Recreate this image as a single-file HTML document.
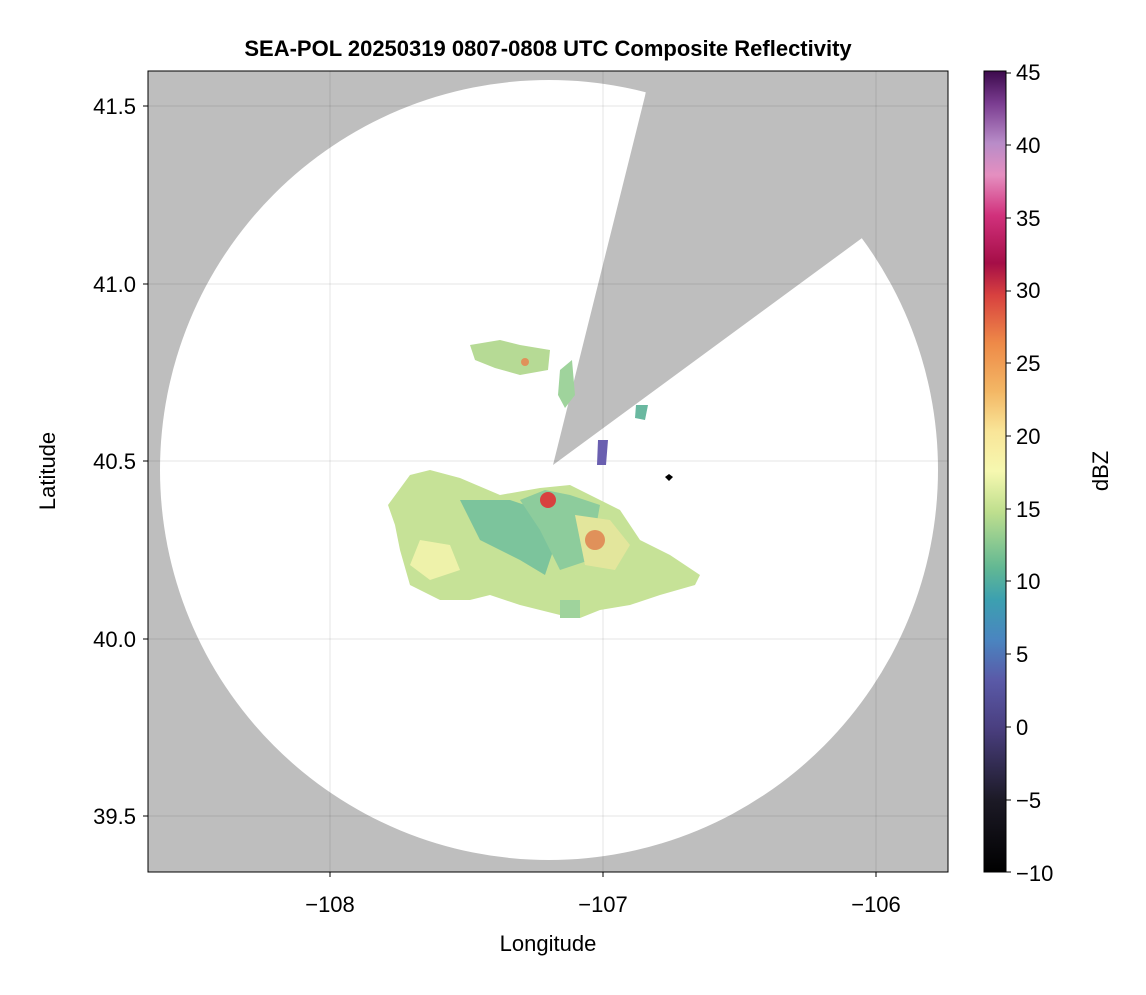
<!DOCTYPE html>
<html><head><meta charset="utf-8"><style>
body{margin:0;background:#fff;}
svg text{font-family:"Liberation Sans",sans-serif;}
</style></head><body>
<svg width="1146" height="990" xmlns="http://www.w3.org/2000/svg">
<defs>
<clipPath id="pa"><rect x="148" y="71" width="800" height="801"/></clipPath>
<linearGradient id="cb" x1="0" y1="1" x2="0" y2="0">
<stop offset="0" stop-color="#000000"/>
<stop offset="0.09" stop-color="#1c1a26"/>
<stop offset="0.18" stop-color="#4a3f80"/>
<stop offset="0.24" stop-color="#5a5aa8"/>
<stop offset="0.29" stop-color="#4a85c0"/>
<stop offset="0.34" stop-color="#3ca0b0"/>
<stop offset="0.38" stop-color="#62b893"/>
<stop offset="0.45" stop-color="#bfdf8e"/>
<stop offset="0.50" stop-color="#f6f8b0"/>
<stop offset="0.55" stop-color="#f9e598"/>
<stop offset="0.60" stop-color="#f3b765"/>
<stop offset="0.66" stop-color="#ee8a48"/>
<stop offset="0.72" stop-color="#d8413f"/>
<stop offset="0.76" stop-color="#a50e47"/>
<stop offset="0.82" stop-color="#d1317c"/>
<stop offset="0.87" stop-color="#e58fc0"/>
<stop offset="0.91" stop-color="#b88cc8"/>
<stop offset="0.96" stop-color="#7a3c90"/>
<stop offset="1" stop-color="#3c0a4c"/>
</linearGradient>
</defs>
<rect x="148" y="71" width="800" height="801" fill="#bebebe"/>
<g clip-path="url(#pa)">
<ellipse cx="549" cy="470" rx="389" ry="390" fill="#fff"/>
<polygon points="553,465 645,96 650,71 948,71 948,175 858,241" fill="#bebebe"/>
<g stroke="#000" stroke-opacity="0.1" stroke-width="1">
<line x1="330" y1="71" x2="330" y2="872"/><line x1="603" y1="71" x2="603" y2="872"/><line x1="876" y1="71" x2="876" y2="872"/>
<line x1="148" y1="106" x2="948" y2="106"/><line x1="148" y1="284" x2="948" y2="284"/><line x1="148" y1="461" x2="948" y2="461"/><line x1="148" y1="639" x2="948" y2="639"/><line x1="148" y1="816" x2="948" y2="816"/>
</g>
<polygon points="388,505 410,475 430,470 460,478 500,495 540,488 570,485 600,500 620,510 640,540 670,555 700,575 695,585 660,595 630,605 600,610 580,618 560,615 520,605 490,595 470,600 440,600 410,585 400,550 395,525" fill="#c6e297"/>
<polygon points="460,500 510,500 540,510 560,530 545,575 520,560 480,540 470,520" fill="#7cc49c"/>
<polygon points="520,500 545,490 570,495 600,505 590,560 560,570 540,530" fill="#8dcc9c"/>
<polygon points="575,515 610,520 630,545 615,570 585,565" fill="#e3e69c"/>
<circle cx="595" cy="540" r="10" fill="#e0915a"/>
<circle cx="548" cy="500" r="8" fill="#d8413f"/>
<polygon points="420,540 450,545 460,570 430,580 410,565" fill="#eef2aa"/>
<polygon points="470,345 500,340 520,345 550,350 548,370 520,375 495,368 475,360" fill="#b6da95"/>
<circle cx="525" cy="362" r="4" fill="#e0915a"/>
<polygon points="560,370 572,360 575,395 565,408 558,395" fill="#9fd39c"/>
<polygon points="636,405 648,405 645,420 635,418" fill="#6ab8a0"/>
<polygon points="598,440 608,440 606,465 597,465" fill="#6a5fb0"/>
<polygon points="560,600 580,600 580,618 560,618" fill="#9fd39c"/>
<polygon points="669,474 673,477 669,481 665,477" fill="#000"/>
</g>
<rect x="148" y="71" width="800" height="801" fill="none" stroke="#000" stroke-width="1"/>
<g stroke="#000"><line x1="330" y1="872" x2="330" y2="877"/><line x1="603" y1="872" x2="603" y2="877"/><line x1="876" y1="872" x2="876" y2="877"/>
<line x1="143" y1="106" x2="148" y2="106"/><line x1="143" y1="284" x2="148" y2="284"/><line x1="143" y1="461" x2="148" y2="461"/><line x1="143" y1="639" x2="148" y2="639"/><line x1="143" y1="816" x2="148" y2="816"/></g>
<g font-size="22" fill="#000">
<text x="330" y="912" text-anchor="middle">−108</text>
<text x="603" y="912" text-anchor="middle">−107</text>
<text x="876" y="912" text-anchor="middle">−106</text>
<text x="136" y="114" text-anchor="end">41.5</text>
<text x="136" y="292" text-anchor="end">41.0</text>
<text x="136" y="469" text-anchor="end">40.5</text>
<text x="136" y="647" text-anchor="end">40.0</text>
<text x="136" y="824" text-anchor="end">39.5</text>
<text x="548" y="951" text-anchor="middle">Longitude</text>
<text transform="translate(55,471) rotate(-90)" text-anchor="middle">Latitude</text>
</g>
<text x="548" y="56" text-anchor="middle" font-size="22" font-weight="bold">SEA-POL 20250319 0807-0808 UTC Composite Reflectivity</text>
<rect x="984" y="71" width="22" height="801" fill="url(#cb)"/>
<rect x="984" y="71" width="22" height="801" fill="none" stroke="#000" stroke-width="1"/>
<g font-size="22" fill="#000">
<text x="1016" y="80">45</text>
<text x="1016" y="153">40</text>
<text x="1016" y="226">35</text>
<text x="1016" y="298">30</text>
<text x="1016" y="371">25</text>
<text x="1016" y="444">20</text>
<text x="1016" y="517">15</text>
<text x="1016" y="589">10</text>
<text x="1016" y="662">5</text>
<text x="1016" y="735">0</text>
<text x="1016" y="808">−5</text>
<text x="1016" y="881">−10</text>
<text transform="translate(1108,471) rotate(-90)" text-anchor="middle">dBZ</text>
</g>
<g stroke="#000"><line x1="1006" y1="73" x2="1011" y2="73"/><line x1="1006" y1="145" x2="1011" y2="145"/><line x1="1006" y1="218" x2="1011" y2="218"/><line x1="1006" y1="291" x2="1011" y2="291"/><line x1="1006" y1="363" x2="1011" y2="363"/><line x1="1006" y1="436" x2="1011" y2="436"/><line x1="1006" y1="509" x2="1011" y2="509"/><line x1="1006" y1="581" x2="1011" y2="581"/><line x1="1006" y1="654" x2="1011" y2="654"/><line x1="1006" y1="727" x2="1011" y2="727"/><line x1="1006" y1="800" x2="1011" y2="800"/><line x1="1006" y1="872" x2="1011" y2="872"/></g>
</svg>
</body></html>
